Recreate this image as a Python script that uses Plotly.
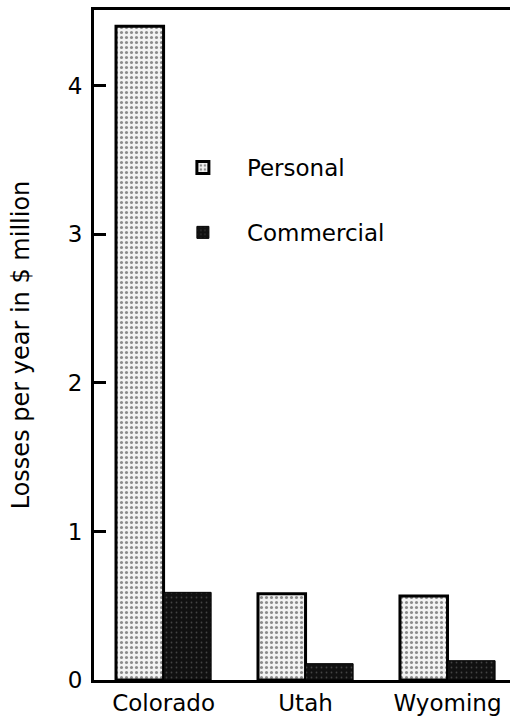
import plotly.graph_objects as go

states = ["Colorado", "Utah", "Wyoming"]
personal = [4.40, 0.58, 0.565]
commercial = [0.59, 0.11, 0.13]
y_ticks = [0, 1, 2, 3, 4]
y_title = "Losses per year in $ million"

FONT = "DejaVu Sans, Liberation Sans, Arial, sans-serif"

fig = go.Figure()
fig.add_trace(go.Bar(
    name="Personal", x=states, y=personal, legendgroup="p",
    marker=dict(color="#f2f2f2",
                line=dict(color="black", width=3),
                pattern=dict(shape=".", fgcolor="#222222", bgcolor="#f2f2f2",
                             size=5, solidity=0.3)),
))
fig.add_trace(go.Bar(
    name="Commercial", x=states, y=commercial, legendgroup="c",
    marker=dict(color="#111111",
                line=dict(color="black", width=1),
                pattern=dict(shape=".", fgcolor="#777777", bgcolor="#111111",
                             size=5, solidity=0.1)),
))

fig.update_layout(
    width=510, height=716,
    margin=dict(l=94, r=0, t=10, b=36, autoexpand=False),
    paper_bgcolor="white", plot_bgcolor="white",
    barmode="group", bargap=0.33, bargroupgap=0,
    font=dict(family=FONT, size=22, color="black"),
    showlegend=True,
    legend=dict(x=0.156, y=0.797, xanchor="left", yanchor="top",
                bgcolor="rgba(0,0,0,0)", font=dict(size=23),
                traceorder="grouped", tracegroupgap=32, itemwidth=78),
    xaxis=dict(range=[-0.49, 2.44], showline=True, mirror=True, automargin=False,
               linecolor="black", linewidth=3, ticks="", showgrid=False,
               tickfont=dict(size=23), ticklabelstandoff=0),
    yaxis=dict(range=[0, 4.51], tickvals=y_ticks, showline=True, automargin=False,
               linecolor="black", linewidth=3, ticks="inside", ticklen=12,
               tickwidth=2.5, tickcolor="black", showgrid=False, zeroline=False,
               tickfont=dict(size=23), ticklabelstandoff=4,
               title=dict(text=y_title, font=dict(size=24), standoff=32)),
)

fig.write_html("out.html",
               config={"displayModeBar": False},
               post_script="document.body.style.margin='0';"
                           "document.body.style.overflow='hidden';")
